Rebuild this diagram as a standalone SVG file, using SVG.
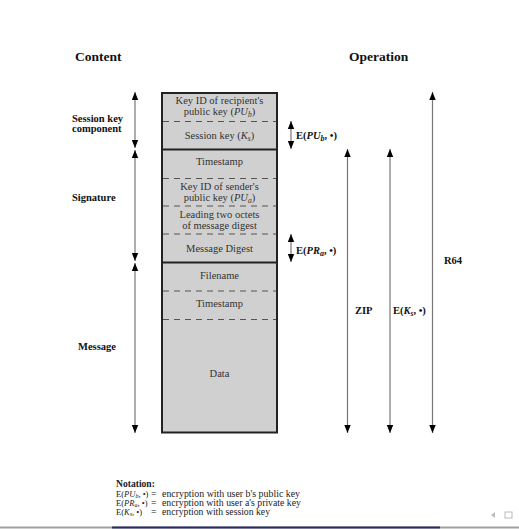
<svg xmlns="http://www.w3.org/2000/svg" width="519" height="529" viewBox="0 0 519 529">
<defs>
<marker id="ah" markerUnits="userSpaceOnUse" markerWidth="8" markerHeight="8" viewBox="0 0 8 8" refX="8" refY="4" orient="auto-start-reverse">
<path d="M0,0.8 L8,4 L0,7.2 Z" fill="#000"/>
</marker>
</defs>
<style>
.hd{font-family:"Liberation Serif",serif;font-weight:bold;font-size:13.5px;fill:#111}
.lb{font-family:"Liberation Serif",serif;font-weight:bold;font-size:10.5px;fill:#111}
.bx{font-family:"Liberation Serif",serif;font-size:10.5px;fill:#333;text-anchor:middle}
.nt{font-family:"Liberation Serif",serif;font-size:9.6px;fill:#222}
.ne{font-family:"Liberation Serif",serif;font-size:8.5px;fill:#222}
.it{font-style:italic}
.ar{stroke:#777;stroke-width:1.2;fill:none;marker-start:url(#ah);marker-end:url(#ah)}
.ds{stroke:#555;stroke-width:1.2;stroke-dasharray:6,5}
.th{stroke:#222;stroke-width:2}
</style>
<rect width="519" height="529" fill="#fff"/>
<text class="hd" x="75" y="61">Content</text>
<text class="hd" x="349" y="61">Operation</text>

<g id="box">
<rect x="162" y="93" width="115" height="339.5" fill="#d0d0d0" stroke="#222" stroke-width="2"/>
<line class="ds" x1="163" y1="121.5" x2="276" y2="121.5"/>
<line class="th" x1="162" y1="149.5" x2="277" y2="149.5"/>
<line class="ds" x1="163" y1="178.5" x2="276" y2="178.5"/>
<line class="ds" x1="163" y1="206" x2="276" y2="206"/>
<line class="ds" x1="163" y1="234" x2="276" y2="234"/>
<line class="th" x1="162" y1="262.5" x2="277" y2="262.5"/>
<line class="ds" x1="163" y1="291" x2="276" y2="291"/>
<line class="ds" x1="163" y1="319.5" x2="276" y2="319.5"/>
</g>
<g id="box-text">
<text class="bx" x="219.5" y="104">Key ID of recipient's</text>
<text class="bx" x="219.5" y="115">public key (<tspan class="it">PU<tspan font-size="7.5" dy="2">b</tspan></tspan><tspan dy="-2">)</tspan></text>
<text class="bx" x="219.5" y="138.5">Session key (<tspan class="it">K<tspan font-size="7.5" dy="2">s</tspan></tspan><tspan dy="-2">)</tspan></text>
<text class="bx" x="219.5" y="165">Timestamp</text>
<text class="bx" x="219.5" y="190">Key ID of sender's</text>
<text class="bx" x="219.5" y="200.5">public key (<tspan class="it">PU<tspan font-size="7.5" dy="2">a</tspan></tspan><tspan dy="-2">)</tspan></text>
<text class="bx" x="219.5" y="218">Leading two octets</text>
<text class="bx" x="219.5" y="228.5">of message digest</text>
<text class="bx" x="219.5" y="252">Message Digest</text>
<text class="bx" x="219.5" y="278.5">Filename</text>
<text class="bx" x="219.5" y="306.5">Timestamp</text>
<text class="bx" x="219.5" y="377">Data</text>
</g>

<g id="connectors">
<line class="ar" x1="135" y1="92" x2="135" y2="148"/>
<line class="ar" x1="135" y1="150" x2="135" y2="261"/>
<line class="ar" x1="135" y1="263" x2="135" y2="433"/>
<line class="ar" x1="291" y1="121" x2="291" y2="149"/>
<line class="ar" x1="291" y1="234" x2="291" y2="262"/>
<line class="ar" x1="347.5" y1="149" x2="347.5" y2="433"/>
<line class="ar" x1="390" y1="149" x2="390" y2="433"/>
<line class="ar" x1="432.5" y1="92" x2="432.5" y2="433"/>
</g>

<g id="labels">
<text class="lb" x="72" y="122">Session key</text>
<text class="lb" x="72" y="131.5">component</text>
<text class="lb" x="72" y="201">Signature</text>
<text class="lb" x="78" y="349.5">Message</text>
<text class="lb" x="296" y="138.5" font-size="11">E(<tspan class="it">PU<tspan font-size="8" dy="2">b</tspan></tspan><tspan dy="-2">, •)</tspan></text>
<text class="lb" x="296" y="253.5" font-size="11">E(<tspan class="it">PR<tspan font-size="8" dy="2">a</tspan></tspan><tspan dy="-2">, •)</tspan></text>
<text class="lb" x="355" y="313.5">ZIP</text>
<text class="lb" x="393" y="313.5">E(<tspan class="it">K<tspan font-size="7.5" dy="2">s</tspan></tspan><tspan dy="-2">, •)</tspan></text>
<text class="lb" x="444" y="264">R64</text>
</g>

<g id="notation">
<text class="nt" x="116" y="487" font-weight="bold">Notation:</text>
<text class="ne" x="116" y="496.5">E(<tspan class="it">PU<tspan font-size="6" dy="1">b</tspan></tspan><tspan dy="-1">, •)</tspan></text>
<text class="ne" x="116" y="505.5">E(<tspan class="it">PR<tspan font-size="6" dy="1">a</tspan></tspan><tspan dy="-1">, •)</tspan></text>
<text class="ne" x="116" y="514.5">E(<tspan class="it">K<tspan font-size="6" dy="1">s</tspan></tspan><tspan dy="-1">, •)</tspan></text>
<text class="nt" x="151" y="496.5">=</text>
<text class="nt" x="151" y="505.5">=</text>
<text class="nt" x="151" y="514.5">=</text>
<text class="nt" x="162" y="496.5" textLength="138" lengthAdjust="spacingAndGlyphs">encryption with user b's public key</text>
<text class="nt" x="162" y="505.5" textLength="139" lengthAdjust="spacingAndGlyphs">encryption with user a's private key</text>
<text class="nt" x="162" y="514.5" textLength="108" lengthAdjust="spacingAndGlyphs">encryption with session key</text>
</g>

<line x1="0" y1="527.5" x2="519" y2="527.5" stroke="#a0a0a0" stroke-width="2"/>
<line x1="112" y1="527.5" x2="440" y2="527.5" stroke="#2a2a6a" stroke-width="2"/>
<path d="M495,512 L491,515 L495,518 Z" fill="#bbb"/>
<rect x="505" y="512" width="7" height="6" fill="none" stroke="#bbb" stroke-width="1"/>
</svg>
